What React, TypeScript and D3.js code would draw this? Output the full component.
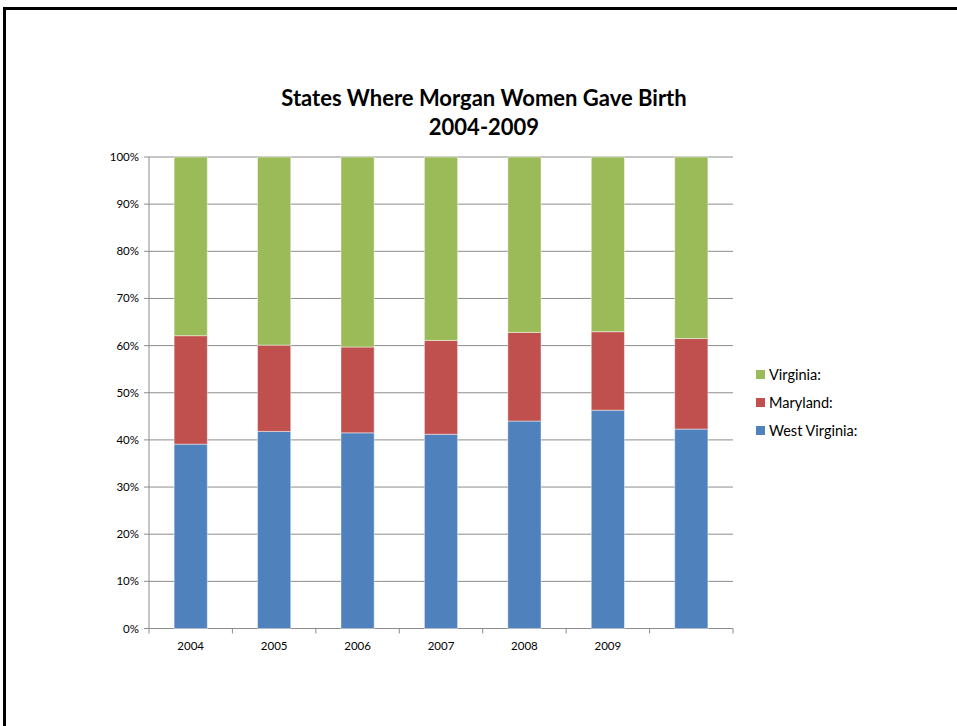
import React from "react";
import * as d3 from "d3";

const categories = ["2004", "2005", "2006", "2007", "2008", "2009", ""];
const westVirginia = [39.1, 41.8, 41.5, 41.2, 44.0, 46.3, 42.3];
const maryland = [23.0, 18.3, 18.2, 19.9, 18.8, 16.65, 19.2];
const virginia = [37.9, 39.9, 40.3, 38.9, 37.2, 37.05, 38.5];
const seriesNames = ["West Virginia:", "Maryland:", "Virginia:"];
const seriesColors = ["#4F81BD", "#C0504D", "#9BBB59"];
const yTicks = [0, 10, 20, 30, 40, 50, 60, 70, 80, 90, 100];

const W = 957;
const H = 726;
const left = 149;
const right = 733;
const top = 157;
const bottom = 628.5;
const font = "Lato, 'Open Sans', sans-serif";

export default function App() {
  const rows = categories.map((c, i) => ({
    cat: String(i),
    wv: westVirginia[i],
    md: maryland[i],
    va: virginia[i],
  }));
  const stack = d3
    .stack<any>()
    .keys(["wv", "md", "va"])
    .offset(d3.stackOffsetExpand)(rows);

  const x = d3
    .scaleBand<string>()
    .domain(categories.map((_, i) => String(i)))
    .range([left, right])
    .padding(0);
  const band = x.bandwidth();
  const barW = 33.2;
  const y = d3.scaleLinear().domain([0, 1]).range([bottom, top]);

  const legendOrder = [2, 1, 0];

  return (
    <svg
      width={W}
      height={H}
      style={{ position: "absolute", left: 0, top: 0, background: "#fff" }}
      fontFamily={font}
    >
      <rect x={0} y={0} width={W} height={H} fill="#fff" />
      {/* frame */}
      <rect x={3} y={7} width={W} height={3} fill="#000" />
      <rect x={3} y={7} width={3} height={H} fill="#000" />

      {/* title */}
      <text x={484} y={106} textAnchor="middle" fontSize={22} fontWeight="bold" fill="#000">
        States Where Morgan Women Gave Birth
      </text>
      <text x={484} y={135} textAnchor="middle" fontSize={22} fontWeight="bold" fill="#000">
        2004-2009
      </text>

      {/* gridlines */}
      {yTicks.map((t) => (
        <g key={t}>
          <line
            x1={left - 5}
            x2={right}
            y1={y(t / 100)}
            y2={y(t / 100)}
            stroke="#8C8C8C"
            strokeWidth={1}
          />
          <text x={left - 10} y={y(t / 100) + 4} textAnchor="end" fontSize={11.5} fill="#000">
            {t}%
          </text>
        </g>
      ))}
      {/* y axis */}
      <line x1={left} x2={left} y1={top} y2={bottom} stroke="#8C8C8C" />
      {/* x ticks */}
      {d3.range(categories.length + 1).map((i) => (
        <line
          key={i}
          x1={left + i * band}
          x2={left + i * band}
          y1={bottom}
          y2={bottom + 5}
          stroke="#8C8C8C"
        />
      ))}
      {categories.map((c, i) => (
        <text
          key={i}
          x={(x(String(i)) as number) + band / 2}
          y={650}
          textAnchor="middle"
          fontSize={11.5}
          fill="#000"
        >
          {c}
        </text>
      ))}

      {/* bars */}
      {stack.map((s, si) => (
        <g key={si}>
          {s.map((d, i) => (
            <rect
              key={i}
              x={(x(String(i)) as number) + band / 2 - barW / 2}
              width={barW}
              y={y(d[1])}
              height={y(d[0]) - y(d[1])}
              fill={seriesColors[si]}
              stroke="rgba(255,255,255,0.45)"
              strokeWidth={1}
            />
          ))}
        </g>
      ))}

      {/* legend */}
      {legendOrder.map((si, k) => (
        <g key={si} transform={`translate(756, ${370 + k * 28})`}>
          <rect x={0} y={0} width={9} height={9} fill={seriesColors[si]} />
          <text x={13} y={9.5} fontSize={14.5} fill="#000">
            {seriesNames[si]}
          </text>
        </g>
      ))}
    </svg>
  );
}
